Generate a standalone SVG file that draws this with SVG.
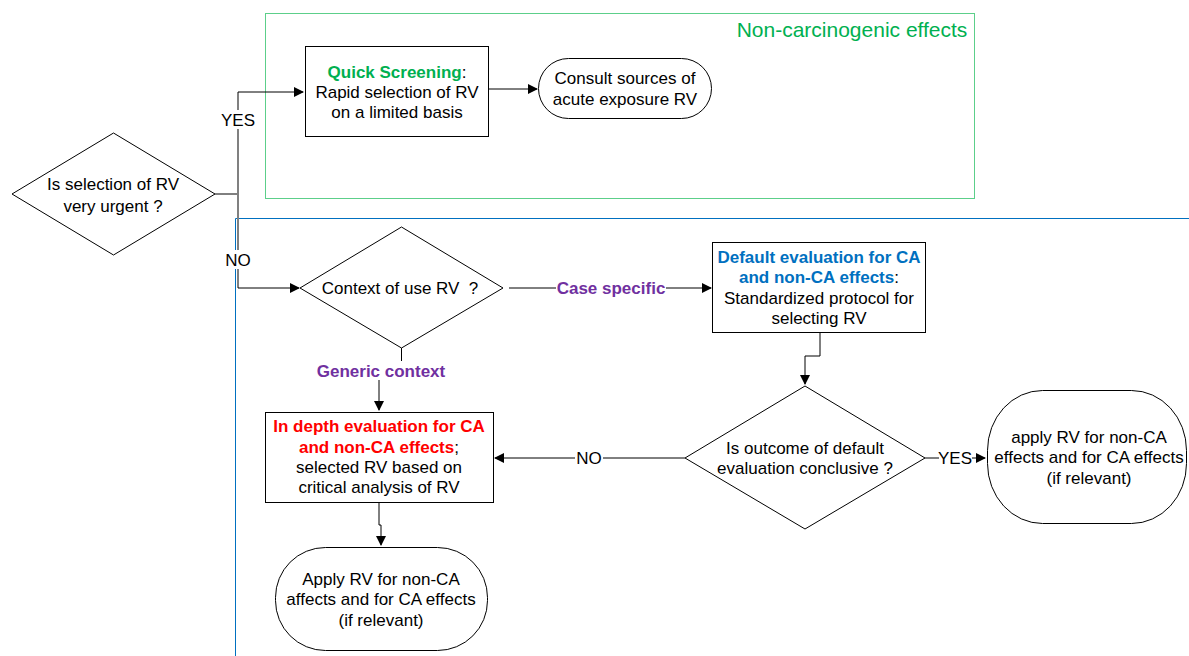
<svg xmlns="http://www.w3.org/2000/svg" width="1189" height="656" viewBox="0 0 1189 656">
<style>
.s{fill:#fff;stroke:#000;stroke-width:1}
.t{font-family:"Liberation Sans",Arial,sans-serif;font-size:17px;fill:#000;text-anchor:middle}
.b{font-weight:bold}
.g{fill:#00b050}
.bl{fill:#0070c0}
.r{fill:#ff0000}
.p{fill:#7030a0}
.c{fill:none;stroke:#000;stroke-width:1}
</style>
<defs>
<marker id="a" markerWidth="10" markerHeight="10" refX="9" refY="5" orient="auto" markerUnits="userSpaceOnUse">
<path d="M0,0 L10,5 L0,10 Z" fill="#000"/>
</marker>
</defs>
<rect width="1189" height="656" fill="#fff"/>
<g id="frames">
<rect x="265.5" y="13.5" width="709" height="185" fill="none" stroke="#5ccf8a" stroke-width="1"/>
<text x="852" y="37" style="font-family:'Liberation Sans',Arial,sans-serif;font-size:21px;fill:#00b050;text-anchor:middle">Non-carcinogenic effects</text>
<path d="M1189,218.5 H235.5 V656" fill="none" stroke="#0070c0" stroke-width="1"/>
</g>
<g id="connectors">
<path class="c" d="M215,194 H238"/>
<path d="M238,92 V288" fill="none" stroke="#808080" stroke-width="2"/>
<path class="c" d="M238,92 H303" marker-end="url(#a)"/>
<path class="c" d="M238,288 H299" marker-end="url(#a)"/>
<rect x="219" y="110" width="38" height="19" fill="#fff"/>
<text class="t" x="238" y="126">YES</text>
<rect x="223" y="250" width="30" height="19" fill="#fff"/>
<text class="t" x="238" y="266">NO</text>
<path class="c" d="M489,89 H537" marker-end="url(#a)"/>
<path class="c" d="M509,288 H711" marker-end="url(#a)"/>
<rect x="556" y="279" width="110" height="19" fill="#fff"/>
<text class="t b p" x="611" y="294">Case specific</text>
<path class="c" d="M401.5,348 V371 H379 V410" marker-end="url(#a)"/>
<rect x="316" y="361" width="130" height="19" fill="#fff"/>
<text class="t b p" x="381" y="377">Generic context</text>
<path class="c" d="M820,333 V356 H805 V384" marker-end="url(#a)"/>
<path class="c" d="M925,458 H985" marker-end="url(#a)"/>
<rect x="939" y="449" width="33" height="19" fill="#fff"/>
<text class="t" x="955" y="464">YES</text>
<path class="c" d="M685,458 H495" marker-end="url(#a)"/>
<rect x="575" y="449" width="28" height="19" fill="#fff"/>
<text class="t" x="589" y="464">NO</text>
<path class="c" d="M379,503 V525 H381 V545" marker-end="url(#a)"/>
</g>
<g id="n1">
<polygon class="s" points="12,194 113.5,133 215,194 113.5,255"/>
<text class="t" x="113" y="190">Is selection of RV</text>
<text class="t" x="113" y="212">very urgent ?</text>
</g>
<g id="n2">
<rect class="s" x="305.5" y="46.5" width="183" height="90"/>
<text class="t" x="397" y="78"><tspan class="b g">Quick Screening</tspan>:</text>
<text class="t" x="397" y="98">Rapid selection of RV</text>
<text class="t" x="397" y="118">on a limited basis</text>
</g>
<g id="n3">
<rect class="s" x="538.5" y="58.5" width="173" height="60" rx="30" ry="30"/>
<text class="t" x="625" y="84">Consult sources of</text>
<text class="t" x="625" y="105">acute exposure RV</text>
</g>
<g id="n4">
<polygon class="s" points="300,288 401.5,227 503,288 401.5,348"/>
<text class="t" x="400" y="294">Context of use RV &#160;?</text>
</g>
<g id="n5">
<rect class="s" x="712.5" y="242.5" width="213" height="90"/>
<text class="t b bl" x="819" y="263">Default evaluation for CA</text>
<text class="t" x="819" y="283"><tspan class="b bl">and non-CA effects</tspan>:</text>
<text class="t" x="819" y="304">Standardized protocol for</text>
<text class="t" x="819" y="324">selecting RV</text>
</g>
<g id="n6">
<polygon class="s" points="685,458 805,386 925,458 805,529"/>
<text class="t" x="805" y="454">Is outcome of default</text>
<text class="t" x="805" y="474">evaluation conclusive ?</text>
</g>
<g id="n7">
<rect class="s" x="987.5" y="390.5" width="199" height="133" rx="55" ry="60"/>
<text class="t" x="1089" y="443">apply RV for non-CA</text>
<text class="t" x="1089" y="463">effects and for CA effects</text>
<text class="t" x="1089" y="484">(if relevant)</text>
</g>
<g id="n8">
<rect class="s" x="265.5" y="412.5" width="228" height="90"/>
<text class="t b r" x="379" y="432">In depth evaluation for CA</text>
<text class="t" x="379" y="453"><tspan class="b r">and non-CA effects</tspan>;</text>
<text class="t" x="379" y="473">selected RV based on</text>
<text class="t" x="379" y="493">critical analysis of RV</text>
</g>
<g id="n9">
<rect class="s" x="275.5" y="547.5" width="212" height="103" rx="50" ry="50"/>
<text class="t" x="381" y="585">Apply RV for non-CA</text>
<text class="t" x="381" y="605">affects and for CA effects</text>
<text class="t" x="381" y="626">(if relevant)</text>
</g>
</svg>
